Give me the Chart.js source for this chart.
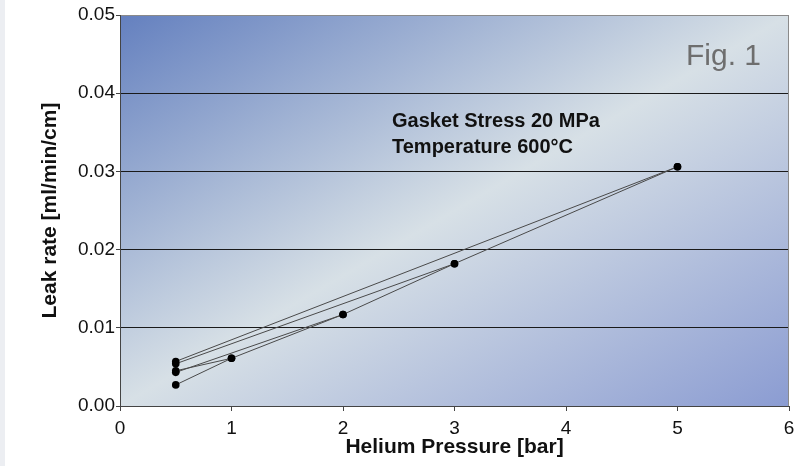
<!DOCTYPE html>
<html>
<head>
<meta charset="utf-8">
<title>Leak rate vs helium pressure</title>
<script src="https://cdn.jsdelivr.net/npm/chart.js@4/dist/chart.umd.min.js"></script>
<style>
    body { margin: 0; background: linear-gradient(to right, #eceef2 0, #eceef2 5px, #ffffff 5px); }
    #wrap { width: 808px; height: 466px; }
</style>
</head>
<body>
<div id="wrap"><canvas id="leak_chart" width="808" height="466"></canvas></div>
<script>
// measured pressure steps (bar) and the leak rate of the first run
const pressure = [0.5, 1, 2, 3, 5];
const leakRun1 = [0.0027, 0.0061, 0.0117, 0.0182, 0.0306];
// repeated readings at 0.5 bar and the pressure step each one is joined to
const baseline = [0.0045, 0.0043, 0.0054, 0.0057];
const baselineTarget = [1, 2, 3, 5];
// axis ticks
const xTicks = [0, 1, 2, 3, 4, 5, 6];
const yTicks = [0, 0.01, 0.02, 0.03, 0.04, 0.05];

const FONT = "'Liberation Sans', Arial, sans-serif";
Chart.defaults.font.family = FONT;

var datasets = [];
datasets.push({
    data: pressure.map(function (p, i) { return { x: p, y: leakRun1[i] }; })
});
baseline.forEach(function (v, i) {
    var t = baselineTarget[i];
    datasets.push({
        data: [{ x: 0.5, y: v }, { x: t, y: leakRun1[pressure.indexOf(t)] }]
    });
});
datasets.forEach(function (d) {
    d.showLine = true;
    d.borderColor = "#4a4a4a";
    d.borderWidth = 1;
    d.pointRadius = 3.8;
    d.pointBackgroundColor = "#000000";
    d.pointBorderColor = "#000000";
    d.pointBorderWidth = 0;
});

var plotDecor = {
    id: "plotDecor",
    beforeDraw: function (chart) {
        var ctx = chart.ctx, a = chart.chartArea;
        var w = a.right - a.left, h = a.bottom - a.top;
        var cx = a.left + w / 2, cy = a.top + h / 2;
        var len = Math.hypot(w, h);
        var ux = h / len, uy = w / len;
        var half = (w / 2) * ux + (h / 2) * uy;
        var g = ctx.createLinearGradient(cx - half * ux, cy - half * uy, cx + half * ux, cy + half * uy);
        g.addColorStop(0, "#6480bf");
        g.addColorStop(0.5, "#d7e0e6");
        g.addColorStop(1, "#8b9cd2");
        ctx.save();
        ctx.fillStyle = g;
        ctx.fillRect(a.left, a.top, w, h);
        ctx.restore();
    },
    afterDraw: function (chart) {
        var ctx = chart.ctx, a = chart.chartArea;
        ctx.save();
        // right frame
        ctx.strokeStyle = "#8a8a8a";
        ctx.lineWidth = 1;
        ctx.beginPath();
        ctx.moveTo(Math.round(a.right) - 0.5, a.top);
        ctx.lineTo(Math.round(a.right) - 0.5, a.bottom);
        ctx.stroke();
        // notes
        ctx.fillStyle = "#111111";
        ctx.font = "bold 20px " + FONT;
        ctx.textBaseline = "alphabetic";
        ctx.fillText("Gasket Stress 20 MPa", 392, 127);
        ctx.fillText("Temperature 600°C", 392, 153);
        ctx.fillStyle = "#6e6e6e";
        ctx.font = "30px " + FONT;
        ctx.fillText("Fig. 1", 686, 65);
        ctx.restore();
    }
};

var chart = new Chart(document.getElementById("leak_chart"), {
    type: "scatter",
    data: { datasets: datasets },
    options: {
        responsive: false,
        animation: false,
        layout: { padding: { top: 15, right: 19, left: 0, bottom: 0 } },
        plugins: {
            legend: { display: false },
            tooltip: { enabled: false }
        },
        scales: {
            x: {
                type: "linear",
                min: 0,
                max: 6,
                afterBuildTicks: function (scale) {
                    scale.ticks = xTicks.map(function (v) { return { value: v }; });
                },
                afterFit: function (scale) { scale.height = 60; },
                ticks: {
                    color: "#111111",
                    font: { size: 19 },
                    padding: 6,
                    maxRotation: 0
                },
                grid: {
                    drawOnChartArea: false,
                    drawTicks: true,
                    tickLength: 5,
                    color: "#444444"
                },
                border: { color: "#444444" },
                title: {
                    display: true,
                    text: "Helium Pressure [bar]",
                    color: "#111111",
                    font: { size: 21, weight: "bold" },
                    padding: { top: 0, bottom: 6 }
                }
            },
            y: {
                min: 0,
                max: 0.05,
                afterBuildTicks: function (scale) {
                    scale.ticks = yTicks.map(function (v) { return { value: v }; });
                },
                afterFit: function (scale) { scale.width = 120; },
                ticks: {
                    color: "#111111",
                    font: { size: 19 },
                    padding: 1,
                    callback: function (v) { return v.toFixed(2); }
                },
                grid: {
                    tickLength: 4,
                    tickColor: "#444444",
                    color: function (c) {
                        var v = c.tick ? c.tick.value : 0;
                        if (v === 0) return "rgba(0,0,0,0)";
                        if (Math.abs(v - 0.05) < 1e-9) return "#8a8a8a";
                        return "#1a1a1a";
                    }
                },
                border: { color: "#444444" },
                title: {
                    display: true,
                    text: "Leak rate [ml/min/cm]",
                    color: "#111111",
                    font: { size: 21, weight: "bold" },
                    padding: { top: 38, bottom: 0 }
                }
            }
        }
    },
    plugins: [plotDecor]
});
</script>
</body>
</html>
